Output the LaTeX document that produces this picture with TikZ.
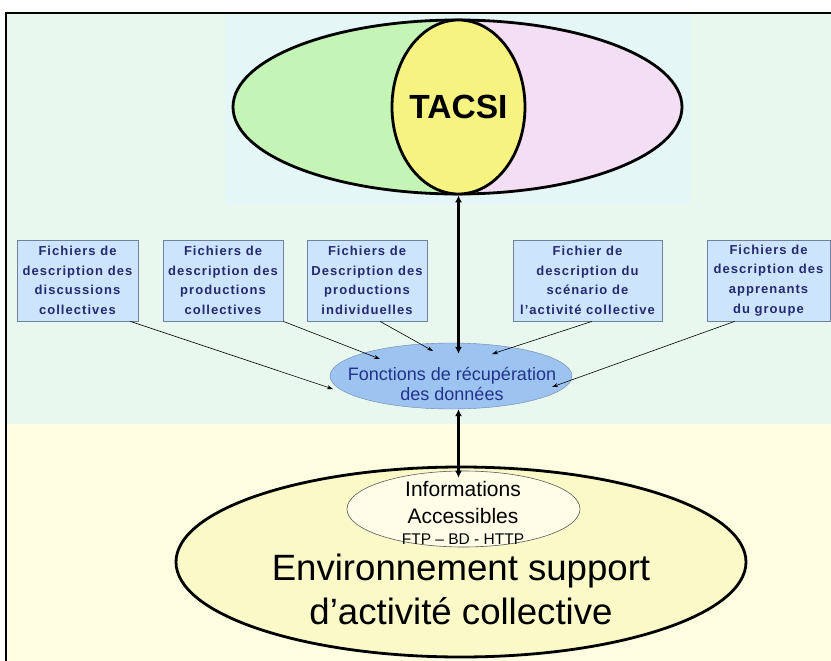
\documentclass[tikz,border=0pt]{standalone}
\usepackage{fontspec}
\setmainfont{Liberation Sans}
\newfontfamily\spacedfont[LetterSpace=8]{Liberation Sans}
\usetikzlibrary{shapes.geometric,arrows.meta,calc}

\definecolor{bgtop}{RGB}{232,248,238}
\definecolor{bgcyan}{RGB}{229,246,246}
\definecolor{bgbot}{RGB}{254,253,226}
\definecolor{tgreen}{RGB}{196,245,183}
\definecolor{tpink}{RGB}{243,222,243}
\definecolor{tyellow}{RGB}{246,243,128}
\definecolor{boxfill}{RGB}{204,228,252}
\definecolor{boxborder}{RGB}{110,130,160}
\definecolor{boxtext}{RGB}{35,42,110}
\definecolor{foncfill}{RGB}{157,196,240}
\definecolor{foncborder}{RGB}{110,130,170}
\definecolor{fonctext}{RGB}{35,50,140}
\definecolor{infofill}{RGB}{255,253,232}
\definecolor{envfill}{RGB}{252,249,200}

\begin{document}
\begin{tikzpicture}[x=1pt,y=-1pt,
    filebox/.style={draw=boxborder,fill=boxfill,line width=0.8pt,minimum height=81pt,
      inner sep=0pt,align=center,text=boxtext,
      font=\spacedfont\bfseries\fontsize{13}{19.7}\selectfont},
    thinarrow/.style={-{Stealth[length=6pt,width=4pt]},line width=0.6pt},
    thickarrow/.style={{Latex[length=7pt,width=7pt]}-{Latex[length=7pt,width=7pt]},line width=2.8pt}]

    \useasboundingbox (0,0) rectangle (831,661);

    % Background and frame
    \fill[bgtop] (6,13) rectangle (831,424);
    \fill[bgbot] (6,424) rectangle (831,661);
    \fill[bgcyan] (225,15) rectangle (690,205);
    \draw[line width=2pt] (6,661) -- (6,13) -- (831,13);

    % TACSI
    \node[ellipse,draw,line width=2.8pt,minimum width=449pt,minimum height=174pt,fill=tgreen,
      path picture={\fill[tpink] (path picture bounding box.north) rectangle (path picture bounding box.south east);}]
      (outer) at (457.5,107) {};
    \node[ellipse,draw,line width=2.8pt,fill=tyellow,minimum width=133pt,minimum height=174pt,
      inner sep=0pt,inner xsep=-4pt,font=\bfseries\fontsize{33.5}{40}\selectfont]
      (tacsi) at (458.5,107) {TACSI};

    % Description files
    \node[filebox,minimum width=121pt] (desc1) at (77.5,280.5) {Fichiers de\\description des\\discussions\\collectives};
    \node[filebox,minimum width=120pt] (desc2) at (223,280.5) {Fichiers de\\description des\\productions\\collectives};
    \node[filebox,minimum width=120pt] (desc3) at (367,280.5) {Fichiers de\\Description des\\productions\\individuelles};
    \node[filebox,minimum width=149pt] (desc4) at (587.5,280.5) {Fichier de\\description du\\scénario de\\l’activité collective};
    \node[filebox,minimum width=123pt] (desc5) at (768.5,280.5) {Fichiers de\\description des\\apprenants\\du groupe};

    % Retrieval functions
    \node[ellipse,draw=foncborder,fill=foncfill,minimum width=242pt,minimum height=66pt,inner sep=0pt] (fonc) at (451,376) {};
    \node[text=fonctext,align=center,font=\fontsize{18}{20}\selectfont] (fonclbl) at (452,384) {Fonctions de récupération\\des données};

    % Collective activity environment
    \node[ellipse,draw,line width=2.8pt,fill=envfill,minimum width=570pt,minimum height=190pt,inner sep=0pt] (env) at (461,562) {};
    \node[ellipse,draw=black!65,line width=0.6pt,fill=infofill,minimum width=233pt,minimum height=76pt,inner sep=0pt] (info) at (463.5,509) {};
    \node[align=center,font=\fontsize{21}{27}\selectfont] (infolbl) at (463,513)
      {Informations\\Accessibles\\[-6pt]{\fontsize{15.5}{18}\selectfont FTP – BD - HTTP}};
    \node[align=center,font=\fontsize{36.6}{44}\selectfont] (envlbl) at (461,589) {Environnement support\\d’activité collective};

    % Arrows
    \draw[thinarrow] ($(desc1.south east)+(-8,0)$) -- ($(fonc.center)+(-118,13)$);
    \draw[thinarrow] (desc2.south east) -- ($(fonc.center)+(-71,-17)$);
    \draw[thinarrow] ($(desc3.south)+(13,0)$) -- ($(fonc.center)+(-18,-25)$);
    \draw[thinarrow] ($(desc4.south)+(4.5,0)$) -- ($(fonc.center)+(41,-22)$);
    \draw[thinarrow] ($(desc5.south west)+(28,0)$) -- ($(fonc.center)+(101,11)$);
    \draw[thickarrow,shorten >=-11pt] (tacsi.south) -- (tacsi.south |- fonc.north);
    \draw[thickarrow,shorten >=-7pt] (tacsi.south |- fonc.south) -- (tacsi.south |- info.north);
\end{tikzpicture}
\end{document}
